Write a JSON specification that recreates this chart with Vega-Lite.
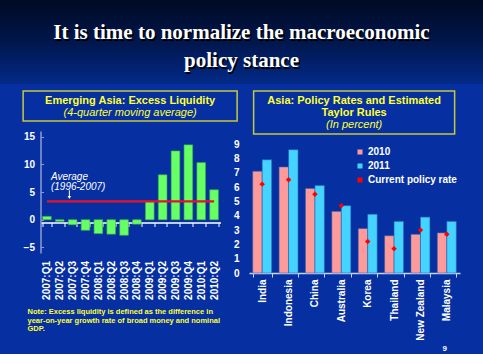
{
  "$schema": "https://vega.github.io/schema/vega-lite/v6.json",
  "background": "#0630a2",
  "padding": 0,
  "spacing": 6,
  "center": true,
  "config": {
    "font": "Liberation Sans",
    "view": {"stroke": null},
    "axis": {"labelColor": "white", "labelFont": "Liberation Sans", "labelFontWeight": "bold", "labelFontSize": 10, "grid": false, "title": null, "labelOverlap": false}
  },
  "vconcat": [
    {
      "width": 483,
      "height": 84,
      "data": {"values": [{"line1": "It is time to normalize the macroeconomic", "line2": "policy stance"}]},
      "layer": [
        {
          "mark": {"type": "rect", "fill": {"gradient": "linear", "x1": 0, "y1": 0, "x2": 0, "y2": 1, "stops": [{"offset": 0, "color": "#000a24"}, {"offset": 0.5, "color": "#01164c"}, {"offset": 1, "color": "#032a88"}]}},
          "encoding": {}
        },
        {
          "mark": {"type": "text", "font": "Liberation Serif", "fontSize": 21, "fontWeight": "bold", "color": "black", "dx": 1.5, "dy": -7.5},
          "encoding": {"text": {"field": "line1"}}
        },
        {
          "mark": {"type": "text", "font": "Liberation Serif", "fontSize": 21, "fontWeight": "bold", "color": "black", "dx": 1.5, "dy": 20.5},
          "encoding": {"text": {"field": "line2"}}
        },
        {
          "mark": {"type": "text", "font": "Liberation Serif", "fontSize": 21, "fontWeight": "bold", "color": "white", "dy": -9},
          "encoding": {"text": {"field": "line1"}}
        },
        {
          "mark": {"type": "text", "font": "Liberation Serif", "fontSize": 21, "fontWeight": "bold", "color": "white", "dy": 19},
          "encoding": {"text": {"field": "line2"}}
        }
      ]
    },
    {
      "spacing": -5,
      "hconcat": [
        {
          "spacing": 9,
          "center": true,
          "vconcat": [
            {
              "width": 214,
              "height": 30,
              "view": {"stroke": "#c8c83c", "strokeWidth": 1.5},
              "data": {"values": [{"l1": "Emerging Asia: Excess Liquidity", "l2": "(4-quarter moving average)"}]},
              "layer": [
                {"mark": {"type": "text", "color": "#ffff33", "fontSize": 11, "fontWeight": "bold", "dy": -5.5}, "encoding": {"text": {"field": "l1"}}},
                {"mark": {"type": "text", "color": "#ffff33", "fontSize": 11, "fontStyle": "italic", "dy": 6.5}, "encoding": {"text": {"field": "l2"}}}
              ]
            },
            {
              "width": 180,
              "height": 122,
              "title": {
                "text": ["Note: Excess liquidity is defined as the difference in", "year-on-year growth rate of broad money and nominal", "GDP."],
                "orient": "bottom", "anchor": "start", "frame": "group", "dx": -13, "offset": 9,
                "color": "#ffff33", "fontSize": 7.5, "fontWeight": "bold", "lineHeight": 8.5,
                "font": "Liberation Sans Narrow, Liberation Sans"
              },
              "layer": [
                {
                  "data": {"values": [
                    {"q": "2007:Q1", "v": 0.6},
                    {"q": "2007:Q2", "v": -0.3},
                    {"q": "2007:Q3", "v": -0.9},
                    {"q": "2007:Q4", "v": -1.9},
                    {"q": "2008:Q1", "v": -2.5},
                    {"q": "2008:Q2", "v": -2.6},
                    {"q": "2008:Q3", "v": -2.8},
                    {"q": "2008:Q4", "v": -0.8},
                    {"q": "2009:Q1", "v": 3.3},
                    {"q": "2009:Q2", "v": 8.1},
                    {"q": "2009:Q3", "v": 12.4},
                    {"q": "2009:Q4", "v": 13.5},
                    {"q": "2010:Q1", "v": 10.3},
                    {"q": "2010:Q2", "v": 5.4}
                  ]},
                  "mark": {"type": "bar", "color": "#66ff66", "stroke": "#3cb43c", "strokeWidth": 0.6},
                  "encoding": {
                    "x": {"field": "q", "type": "nominal", "sort": null,
                      "scale": {"paddingInner": 0.33, "paddingOuter": 0.165},
                      "axis": {"offset": -30.5, "domainColor": "white", "domainWidth": 1.5, "tickColor": "white", "tickSize": 4, "tickBand": "extent", "labelAngle": -90, "labelPadding": 34, "labelFontSize": 10, "labelOverlap": false}},
                    "y": {"field": "v", "type": "quantitative", "scale": {"domain": [-5, 15]},
                      "axis": {"values": [-5, 0, 5, 10, 15], "format": "d", "tickCount": 20, "labelOverlap": false, "domainColor": "#8c9cd0", "domainWidth": 1.5, "tickColor": "#8c9cd0", "tickSize": -3, "labelPadding": 9}}
                  }
                },
                {
                  "data": {"values": [{"q": "2007:Q1", "a": 3.3}, {"q": "2010:Q2", "a": 3.3}]},
                  "mark": {"type": "line", "color": "#e8102a", "strokeWidth": 2.2},
                  "encoding": {
                    "x": {"field": "q", "type": "nominal", "sort": null},
                    "y": {"field": "a", "type": "quantitative"}
                  }
                },
                {
                  "data": {"values": [{"q": "2007:Q1", "v": 7.7, "t": "Average"}, {"q": "2007:Q1", "v": 5.9, "t": "(1996-2007)"}]},
                  "mark": {"type": "text", "align": "left", "dx": 4, "color": "white", "fontSize": 10, "fontStyle": "italic"},
                  "encoding": {
                    "x": {"field": "q", "type": "nominal", "sort": null},
                    "y": {"field": "v", "type": "quantitative"},
                    "text": {"field": "t"}
                  }
                },
                {
                  "data": {"values": [{"q": "2007:Q3", "y1": 5.3, "y2": 4.1}]},
                  "mark": {"type": "rule", "color": "white", "strokeWidth": 1},
                  "encoding": {
                    "x": {"field": "q", "type": "nominal", "sort": null, "bandPosition": 0.12},
                    "y": {"field": "y1", "type": "quantitative"},
                    "y2": {"field": "y2"}
                  }
                },
                {
                  "data": {"values": [{"q": "2007:Q3", "y1": 4.0}]},
                  "mark": {"type": "point", "shape": "triangle-down", "filled": true, "color": "white", "size": 12, "opacity": 1},
                  "encoding": {
                    "x": {"field": "q", "type": "nominal", "sort": null, "bandPosition": 0.12},
                    "y": {"field": "y1", "type": "quantitative"}
                  }
                }
              ]
            }
          ]
        },
        {
          "spacing": 4,
          "center": true,
          "vconcat": [
            {
              "width": 201,
              "height": 43,
              "view": {"stroke": "#c8c83c", "strokeWidth": 1.5},
              "data": {"values": [{"l1": "Asia: Policy Rates and Estimated", "l2": "Taylor Rules", "l3": "(In percent)"}]},
              "layer": [
                {"mark": {"type": "text", "color": "#ffff33", "fontSize": 11, "fontWeight": "bold", "dy": -11.5}, "encoding": {"text": {"field": "l1"}}},
                {"mark": {"type": "text", "color": "#ffff33", "fontSize": 11, "fontWeight": "bold", "dy": 0}, "encoding": {"text": {"field": "l2"}}},
                {"mark": {"type": "text", "color": "#ffff33", "fontSize": 11, "fontStyle": "italic", "dy": 12.5}, "encoding": {"text": {"field": "l3"}}}
              ]
            },
            {
              "width": 211,
              "height": 129,
              "title": {"text": "9", "orient": "bottom", "anchor": "end", "frame": "group", "dx": -13, "offset": 5, "color": "white", "fontSize": 8, "fontWeight": "bold"},
              "layer": [
                {
                  "data": {"values": [
                    {"country": "India", "series": "2010", "v": 7.1},
                    {"country": "India", "series": "2011", "v": 7.9},
                    {"country": "Indonesia", "series": "2010", "v": 7.4},
                    {"country": "Indonesia", "series": "2011", "v": 8.6},
                    {"country": "China", "series": "2010", "v": 5.9},
                    {"country": "China", "series": "2011", "v": 6.1},
                    {"country": "Australia", "series": "2010", "v": 4.3},
                    {"country": "Australia", "series": "2011", "v": 4.7},
                    {"country": "Korea", "series": "2010", "v": 3.1},
                    {"country": "Korea", "series": "2011", "v": 4.1},
                    {"country": "Thailand", "series": "2010", "v": 2.6},
                    {"country": "Thailand", "series": "2011", "v": 3.6},
                    {"country": "New Zealand", "series": "2010", "v": 2.7},
                    {"country": "New Zealand", "series": "2011", "v": 3.9},
                    {"country": "Malaysia", "series": "2010", "v": 2.8},
                    {"country": "Malaysia", "series": "2011", "v": 3.6}
                  ]},
                  "mark": {"type": "bar", "stroke": "#2a5fb0", "strokeWidth": 0.8, "strokeOpacity": 0.7},
                  "encoding": {
                    "x": {"field": "country", "type": "nominal", "sort": null,
                      "scale": {"paddingInner": 0.28, "paddingOuter": 0.14},
                      "axis": {"domainColor": "#c8d4f0", "domainWidth": 1.5, "tickColor": "#c8d4f0", "tickSize": 4, "tickBand": "extent", "labelAngle": -90, "labelPadding": 2, "labelFontSize": 10, "labelOverlap": false}},
                    "xOffset": {"field": "series", "type": "nominal", "sort": ["2010", "2011"]},
                    "y": {"field": "v", "type": "quantitative", "scale": {"domain": [0, 9]},
                      "axis": {"values": [0, 1, 2, 3, 4, 5, 6, 7, 8, 9], "format": "d", "tickCount": 20, "labelOverlap": false, "domain": false, "ticks": false, "labelPadding": 10}},
                    "color": {"field": "series", "type": "nominal",
                      "scale": {"domain": ["2010", "2011", "Current policy rate"], "range": ["#ff9a9a", "#44d4ff", "#ff0000"]},
                      "legend": {"orient": "none", "legendX": 355, "legendY": 147, "title": null, "labelColor": "white", "labelFontSize": 10, "labelFontWeight": "bold", "symbolType": "square", "symbolSize": 25, "symbolStrokeWidth": 0, "rowPadding": 4, "labelOffset": 3,
                        "encode": {"symbols": {"update": {"shape": {"signal": "datum.label === 'Current policy rate' ? 'diamond' : 'square'"}}}}}}
                  }
                },
                {
                  "data": {"values": [
                    {"country": "India", "series": "Current policy rate", "v": 6.2},
                    {"country": "Indonesia", "series": "Current policy rate", "v": 6.5},
                    {"country": "China", "series": "Current policy rate", "v": 5.5},
                    {"country": "Australia", "series": "Current policy rate", "v": 4.7},
                    {"country": "Korea", "series": "Current policy rate", "v": 2.2},
                    {"country": "Thailand", "series": "Current policy rate", "v": 1.7},
                    {"country": "New Zealand", "series": "Current policy rate", "v": 3.0},
                    {"country": "Malaysia", "series": "Current policy rate", "v": 2.7}
                  ]},
                  "mark": {"type": "point", "shape": "diamond", "filled": true, "size": 30, "opacity": 1},
                  "encoding": {
                    "x": {"field": "country", "type": "nominal", "sort": null},
                    "y": {"field": "v", "type": "quantitative"},
                    "color": {"field": "series", "type": "nominal"}
                  }
                }
              ]
            }
          ]
        }
      ]
    }
  ]
}
